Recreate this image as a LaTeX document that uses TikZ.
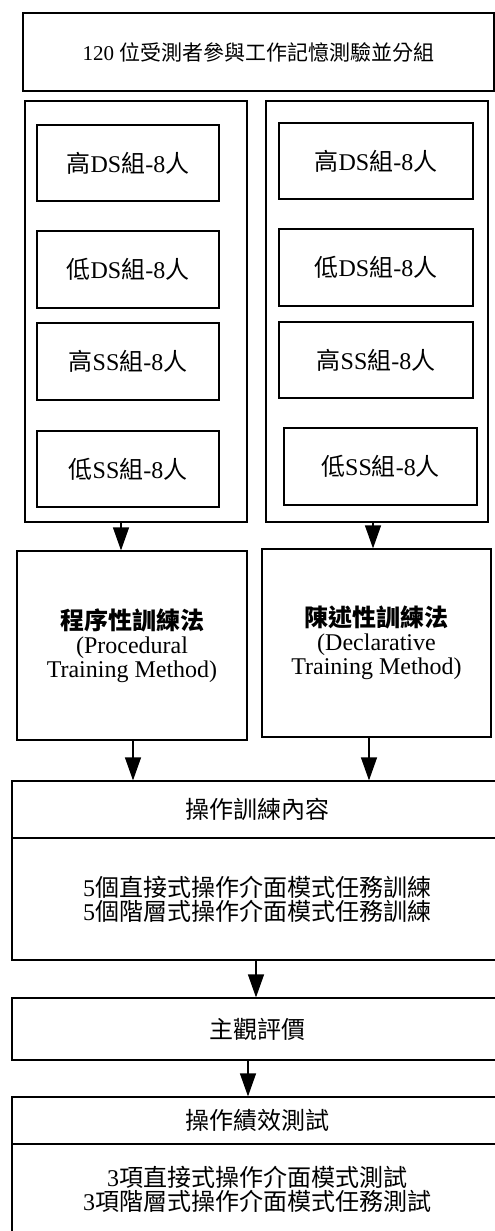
\documentclass[tikz,border=0pt]{standalone}
\usepackage{fontspec}
\setmainfont{Liberation Serif}
\newfontfamily\cj{Noto Sans CJK TC}
\usetikzlibrary{arrows.meta}
\begin{document}
\begin{tikzpicture}[x=1pt,y=-1pt,
  box/.style={draw, line width=1.2pt, rectangle, inner sep=0pt, align=center, font=\fontsize{24}{24}\selectfont},
  arr/.style={line width=1.2pt, -{Triangle[length=23pt,width=16pt]}}]
\useasboundingbox (0,0) rectangle (495,1231);
\clip (0,0) rectangle (495,1231);
% top
\node[box, minimum width=471pt, minimum height=78pt, font=\fontsize{21}{21}\selectfont] (top) at (258.5,52) {120 {\cj 位受測者參與工作記憶測驗並分組}};
% group containers
\node[box, minimum width=222pt, minimum height=421pt] (gL) at (136,311.5) {};
\node[box, minimum width=222pt, minimum height=421pt] (gR) at (377,311.5) {};
% left inner
\node[box, minimum width=182pt, minimum height=76pt] (l1) at (128,163) {{\cj 高}DS{\cj 組}-8{\cj 人}};
\node[box, minimum width=182pt, minimum height=77pt] (l2) at (128,269.5) {{\cj 低}DS{\cj 組}-8{\cj 人}};
\node[box, minimum width=182pt, minimum height=77pt] (l3) at (128,361.5) {{\cj 高}SS{\cj 組}-8{\cj 人}};
\node[box, minimum width=182pt, minimum height=76pt] (l4) at (128,469) {{\cj 低}SS{\cj 組}-8{\cj 人}};
% right inner
\node[box, minimum width=194pt, minimum height=76pt] (r1) at (376,161) {{\cj 高}DS{\cj 組}-8{\cj 人}};
\node[box, minimum width=194pt, minimum height=77pt] (r2) at (376,267.5) {{\cj 低}DS{\cj 組}-8{\cj 人}};
\node[box, minimum width=194pt, minimum height=76pt] (r3) at (376,360) {{\cj 高}SS{\cj 組}-8{\cj 人}};
\node[box, minimum width=193pt, minimum height=77pt] (r4) at (380.5,466.5) {{\cj 低}SS{\cj 組}-8{\cj 人}};
% methods
\node[box, minimum width=230pt, minimum height=189pt] (proc) at (132,645.5) {{\cj\bfseries 程序性訓練法}\\(Procedural\\Training Method)};
\node[box, minimum width=229pt, minimum height=188pt] (decl) at (376.5,643) {{\cj\bfseries 陳述性訓練法}\\(Declarative\\Training Method)};
% training content
\node[box, minimum width=490pt, minimum height=57pt] (trH) at (257,809.5) {{\cj 操作訓練內容}};
\node[box, minimum width=490pt, minimum height=122pt] (trB) at (257,899) {5{\cj 個直接式操作介面模式任務訓練}\\5{\cj 個階層式操作介面模式任務訓練}};
% evaluation
\node[box, minimum width=490pt, minimum height=62pt] (ev) at (257,1029) {{\cj 主觀評價}};
% performance
\node[box, minimum width=490pt, minimum height=47pt] (pfH) at (257,1120.5) {{\cj 操作績效測試}};
\node[box, minimum width=490pt, minimum height=90pt] (pfB) at (257,1189) {3{\cj 項直接式操作介面模式測試}\\3{\cj 項階層式操作介面模式任務測試}};
% arrows
\draw[arr] ([xshift=-15pt]gL.south) -- ([xshift=-15pt]gL.south |- proc.north);
\draw[arr] ([xshift=-4pt]gR.south) -- ([xshift=-4pt]gR.south |- decl.north);
\draw[arr] ([xshift=1pt]proc.south) -- ([xshift=1pt]proc.south |- trH.north);
\draw[arr] ([xshift=-7.5pt]decl.south) -- ([xshift=-7.5pt]decl.south |- trH.north);
\draw[arr] ([xshift=-1pt]trB.south) -- ([xshift=-1pt]trB.south |- ev.north);
\draw[arr] ([xshift=-9pt]ev.south) -- ([xshift=-9pt]ev.south |- pfH.north);
\end{tikzpicture}
\end{document}
